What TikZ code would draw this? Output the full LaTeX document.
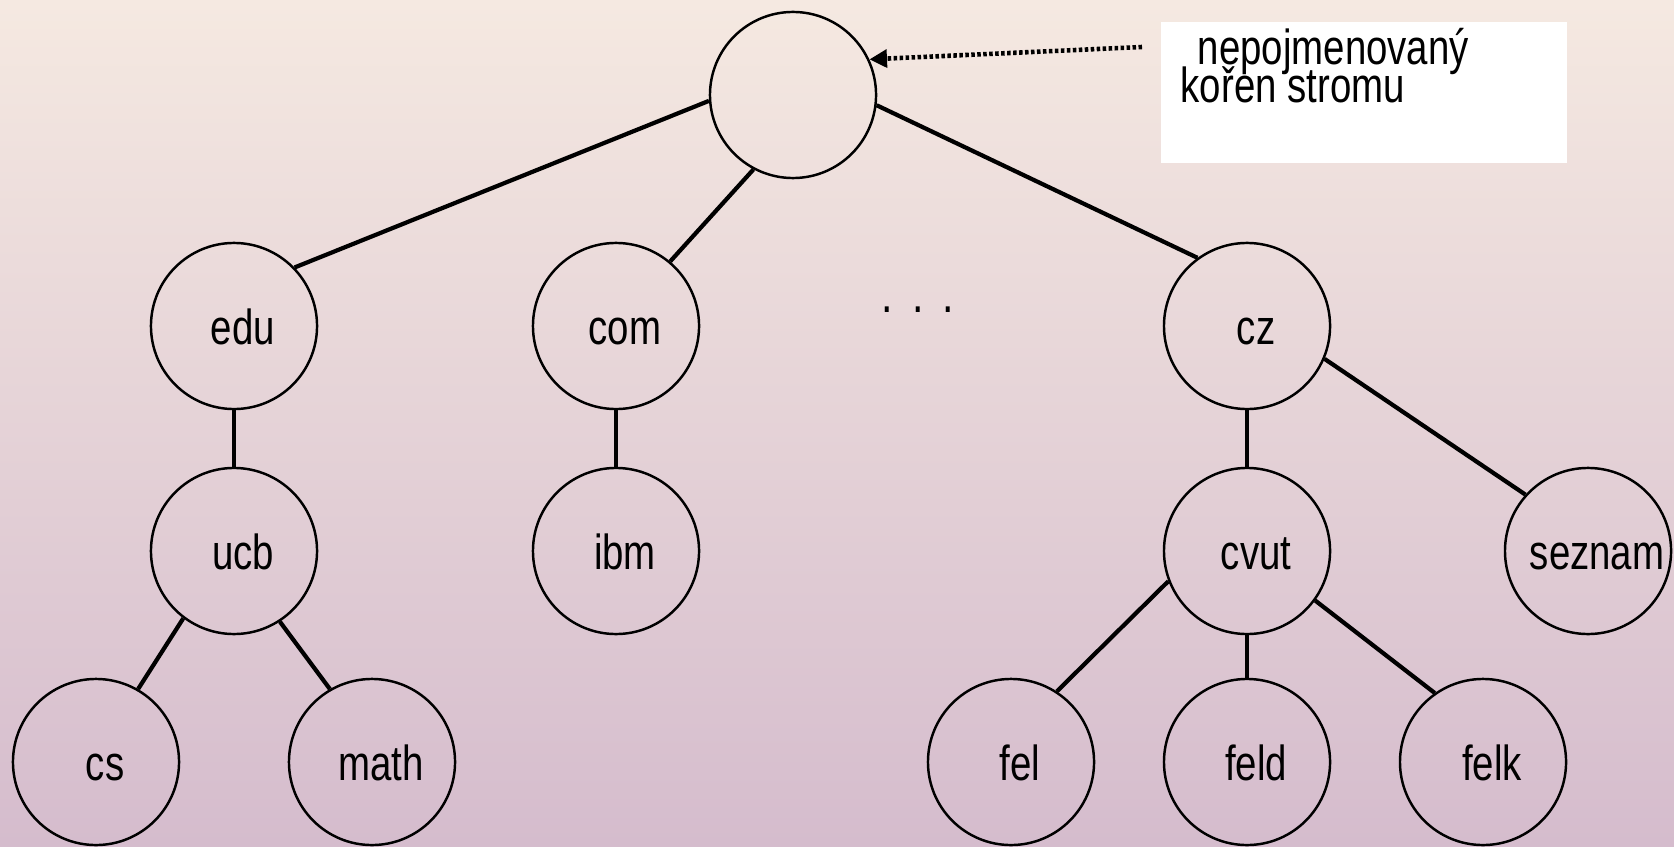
\documentclass[tikz,border=0pt]{standalone}
\usepackage{fontspec}
\setmainfont{Liberation Sans}[FakeStretch=0.78]
\usetikzlibrary{arrows.meta}

\definecolor{bgtop}{HTML}{F5E9E1}
\definecolor{bgmid}{HTML}{E8C8B7}
\definecolor{bgbot}{HTML}{D5BCCD}

\begin{document}
\begin{tikzpicture}[x=0.01cm, y=-0.01cm,
    dnode/.style={circle, draw=black, line width=0.7pt, minimum size=1.66cm, inner sep=0pt,
        font=\fontsize{14pt}{16pt}\selectfont, text height=11pt, text depth=0.5pt,
        execute at begin node=\hspace*{0.18cm}},
    edge/.style={line width=1.2pt},
    notetext/.style={inner sep=0pt, anchor=base west, font=\fontsize{14pt}{16pt}\selectfont},
    pointer/.style={line width=1.3pt, dash pattern=on 1pt off 0.7pt,
        -{Triangle[length=5pt,width=5pt]}}]

    %background
    \useasboundingbox (0,0) rectangle (1674,846);
    \shade[top color=bgtop, middle color=bgmid, bottom color=bgbot] (0,0) rectangle (1674,846);

    %nodes
    \node[dnode] (root) at (793,95) {};
    \node[dnode] (edu) at (234,326) {edu};
    \node[dnode] (com) at (616,326) {com};
    \node[dnode] (cz) at (1247,326) {cz};
    \node[dnode] (ucb) at (234,551) {ucb};
    \node[dnode] (ibm) at (616,551) {ibm};
    \node[dnode] (cvut) at (1247,551) {cvut};
    \node[dnode] (seznam) at (1588,551) {seznam};
    \node[dnode] (cs) at (96,762) {cs};
    \node[dnode] (math) at (372,762) {math};
    \node[dnode] (fel) at (1011,762) {fel};
    \node[dnode] (feld) at (1247,762) {feld};
    \node[dnode] (felk) at (1483,762) {felk};

    % other domains
    \node[inner sep=0pt, font=\fontsize{15pt}{16pt}\selectfont] (dots) at (918,310)
        {.\hspace{0.19cm}.\hspace{0.19cm}.};

    %edges
    \draw[edge] (edu.44) -- (root.184);
    \draw[edge] (com.50) -- (root.242);
    \draw[edge] (cz.126) -- (root.353);
    \draw[edge] (edu.south) -- (ucb.north);
    \draw[edge] (com.south) -- (ibm.north);
    \draw[edge] (cz.south) -- (cvut.north);
    \draw[edge] (cz.337) -- (seznam.138);
    \draw[edge] (ucb.233) -- (cs.60);
    \draw[edge] (ucb.303) -- (math.120);
    \draw[edge] (cvut.201) -- (fel.57);
    \draw[edge] (cvut.south) -- (feld.north);
    \draw[edge] (cvut.324) -- (felk.125);

    % note
    \node[fill=white, inner sep=0pt, anchor=north west, minimum width=4.06cm,
        minimum height=1.41cm] (note) at (1160,21) {};
    \node[notetext] (note1) at (1197,65) {nepojmenovaný};
    \node[notetext] (note2) at (1180,103) {kořen stromu};
    \coordinate (tail) at (1142,47);
    \draw[pointer] (tail) -- (root.25);

\end{tikzpicture}
\end{document}
